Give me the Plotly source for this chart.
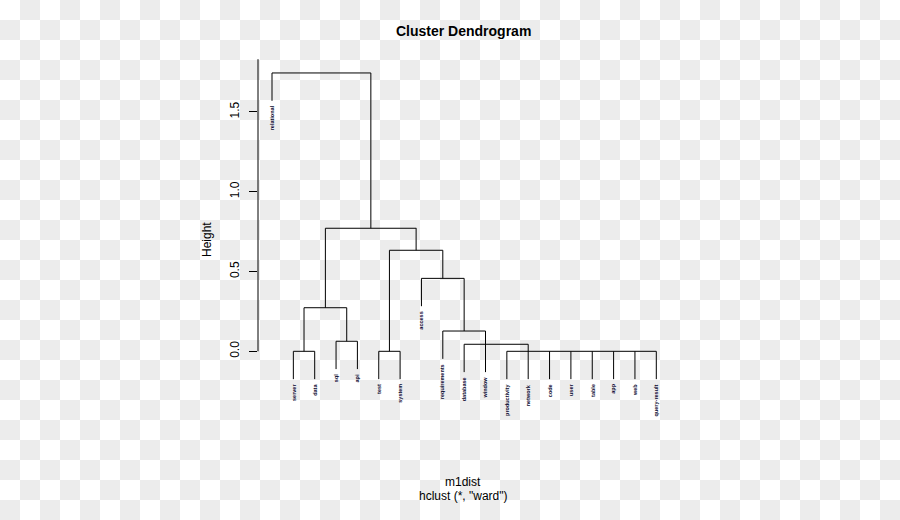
import plotly.graph_objects as go

W, H = 900, 520

# ---- data ----
leaf_labels = ["relational", "server", "data", "sql", "api", "test", "system",
               "access", "requirements", "database", "window", "productivity",
               "network", "code", "user", "table", "app", "web", "query-result"]
leaf_pos = list(range(1, 20))
# height at which each leaf's line starts (its parent bar)
leaf_top = [1.744, 0.0, 0.0, 0.063, 0.063, 0.0, 0.0, 0.457, 0.127, 0.044,
            0.127, 0.0, 0.044, 0.0, 0.0, 0.0, 0.0, 0.0, 0.0]
# height from which the hang is measured (where the label ends up)
leaf_hang_from = [1.744, 0.0, 0.0, 0.063, 0.063, 0.0, 0.0, 0.457, 0.127, 0.044,
                  0.044, 0.0, 0.0, 0.0, 0.0, 0.0, 0.0, 0.0, 0.0]
hang = 0.1 * 1.744

# merge bars: left child position, right child position, height, parent height (None = no stem)
bar_left   = [1.0,   3.5,   2.5,   2.0, 4.0,   6.5,   6.0, 8.0,   9.0,   10.0,  12.0]
bar_right  = [5.63,  7.76,  4.5,   3.0, 5.0,   9.0,   7.0, 10.0,  11.0,  13.0,  19.0]
bar_height = [1.744, 0.771, 0.273, 0.0, 0.063, 0.633, 0.0, 0.457, 0.127, 0.044, 0.0]
bar_parent = [None,  1.744, 0.771, 0.273, 0.273, 0.771, 0.633, 0.633, 0.457, None, None]

y_ticks = [0.0, 0.5, 1.0, 1.5]
y_ticktext = ["0.0", "0.5", "1.0", "1.5"]

# ---- build segments ----
xs, ys = [], []
for l, r, h, p in zip(bar_left, bar_right, bar_height, bar_parent):
    xs += [l, r, None]
    ys += [h, h, None]
    if p is not None:
        m = (l + r) / 2
        xs += [m, m, None]
        ys += [h, p, None]
leaf_bottom = [hf - hang for hf in leaf_hang_from]
for x, t, b in zip(leaf_pos, leaf_top, leaf_bottom):
    xs += [x, x, None]
    ys += [t, b, None]

fig = go.Figure()

# checkered background
nr, nc = 26, 45
z = [[(r + c) % 2 for c in range(nc)] for r in range(nr)]
fig.add_trace(go.Heatmap(z=z, colorscale=[[0, "#ffffff"], [1, "#ececec"]],
                         showscale=False, hoverinfo="skip", zsmooth=False,
                         xaxis="x", yaxis="y"))

fig.add_trace(go.Scatter(x=xs, y=ys, mode="lines",
                         line=dict(color="black", width=1),
                         hoverinfo="skip", xaxis="x2", yaxis="y2"))

# pixel geometry
px_left, px_right = 258, 668
py_top, py_bot = 40, 440
u_per_px = 1 / 21.35
x_lo = 1 + (px_left - 272) * u_per_px
x_hi = 1 + (px_right - 272) * u_per_px
h_per_px = 1 / 159.6
y_lo = (351.3 - py_bot) * h_per_px
y_hi = (351.3 - py_top) * h_per_px

font_fam = "Liberation Sans, Arial, sans-serif"
annotations = []
for x, b, lab in zip(leaf_pos, leaf_bottom, leaf_labels):
    annotations.append(dict(x=x, y=b, xref="x2", yref="y2", text="<b>" + lab + "</b>",
                            textangle=-90, showarrow=False, yanchor="top",
                            xanchor="center", yshift=-3,
                            font=dict(size=5.5, color="#0a0a30", family=font_fam)))


def paper_text(txt, px, py, size, angle=0):
    return dict(x=px / W, y=1 - py / H, xref="paper", yref="paper", text=txt,
                textangle=angle, showarrow=False, xanchor="center",
                yanchor="middle",
                font=dict(size=size, color="black", family=font_fam))


annotations += [
    paper_text("<b>Cluster Dendrogram</b>", 463, 31, 14),
    paper_text("Height", 207, 240, 12, -90),
    paper_text("m1dist", 463, 482, 12),
    paper_text('hclust (*, "ward")', 463, 496, 12),
]

fig.update_layout(
    width=W, height=H,
    margin=dict(l=0, r=0, t=0, b=0),
    paper_bgcolor="white",
    plot_bgcolor="rgba(0,0,0,0)",
    showlegend=False,
    xaxis=dict(domain=[0, 1], range=[-0.5, nc - 0.5], visible=False, fixedrange=True),
    yaxis=dict(domain=[0, 1], range=[nr - 0.5, -0.5], visible=False, fixedrange=True),
    xaxis2=dict(domain=[px_left / W, px_right / W], range=[x_lo, x_hi],
                anchor="y2", showgrid=False, zeroline=False, showline=False,
                showticklabels=False, ticks=""),
    yaxis2=dict(domain=[1 - py_bot / H, 1 - py_top / H], range=[y_lo, y_hi],
                anchor="x2", showgrid=False, zeroline=False, showline=False,
                tickvals=y_ticks, ticktext=y_ticktext, ticks="outside",
                ticklen=8, tickwidth=1, tickcolor="black", tickangle=-90,
                ticklabelstandoff=5,
                tickfont=dict(size=12, color="black", family=font_fam)),
    shapes=[dict(type="line", xref="paper", yref="y2",
                 x0=px_left / W, x1=px_left / W, y0=0, y1=1.83,
                 line=dict(color="black", width=1))],
    annotations=annotations,
)

fig.write_html("out.html")
